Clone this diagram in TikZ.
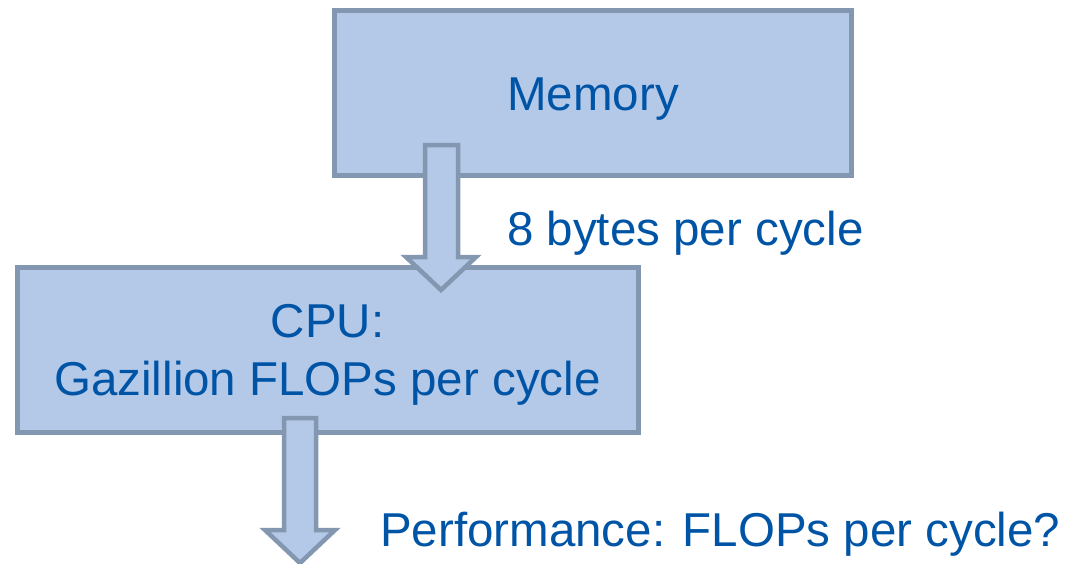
\documentclass[tikz,border=0pt]{standalone}
\usepackage{fontspec}
\setmainfont{Liberation Sans}
\definecolor{boxfill}{RGB}{180,200,232}
\definecolor{boxline}{RGB}{132,151,176}
\definecolor{txt}{RGB}{0,84,166}
\begin{document}
\begin{tikzpicture}[x=1pt,y=-1pt,
  blk/.style={fill=boxfill,draw=boxline,line width=5pt},
  lbl/.style={text=txt,font=\fontsize{47.5}{56}\selectfont,inner sep=0pt}]
\useasboundingbox (0,0) rectangle (1067,563);
% boxes
\draw[blk] (334,10) rectangle (851,175);
\coordinate (memc) at (593,110);
\node[lbl,anchor=base] (mem) at (memc) {Memory};
\draw[blk] (17,267) rectangle (638,432);
\node[lbl,anchor=base] (cpu1) at (327.5,337) {CPU:};
\node[lbl,anchor=base] (cpu2) at (327.5,395) {Gazillion FLOPs per cycle};
% arrows
\draw[blk,line width=4.5pt,line join=miter] (425,145) -- (458,145) -- (458,257) -- (476,257) -- (441,290) -- (406,257) -- (425,257) -- cycle;
\draw[blk,line width=4.5pt,line join=miter] (284,418) -- (316,418) -- (316,530) -- (335,530) -- (300,563) -- (265,530) -- (284,530) -- cycle;
% labels
\node[lbl,anchor=base west] (bw) at (507,245) {8 bytes per cycle};
\node[lbl,anchor=base west] (perf) at (380,546) {Performance: FLOPs per cycle?};
\end{tikzpicture}
\end{document}
